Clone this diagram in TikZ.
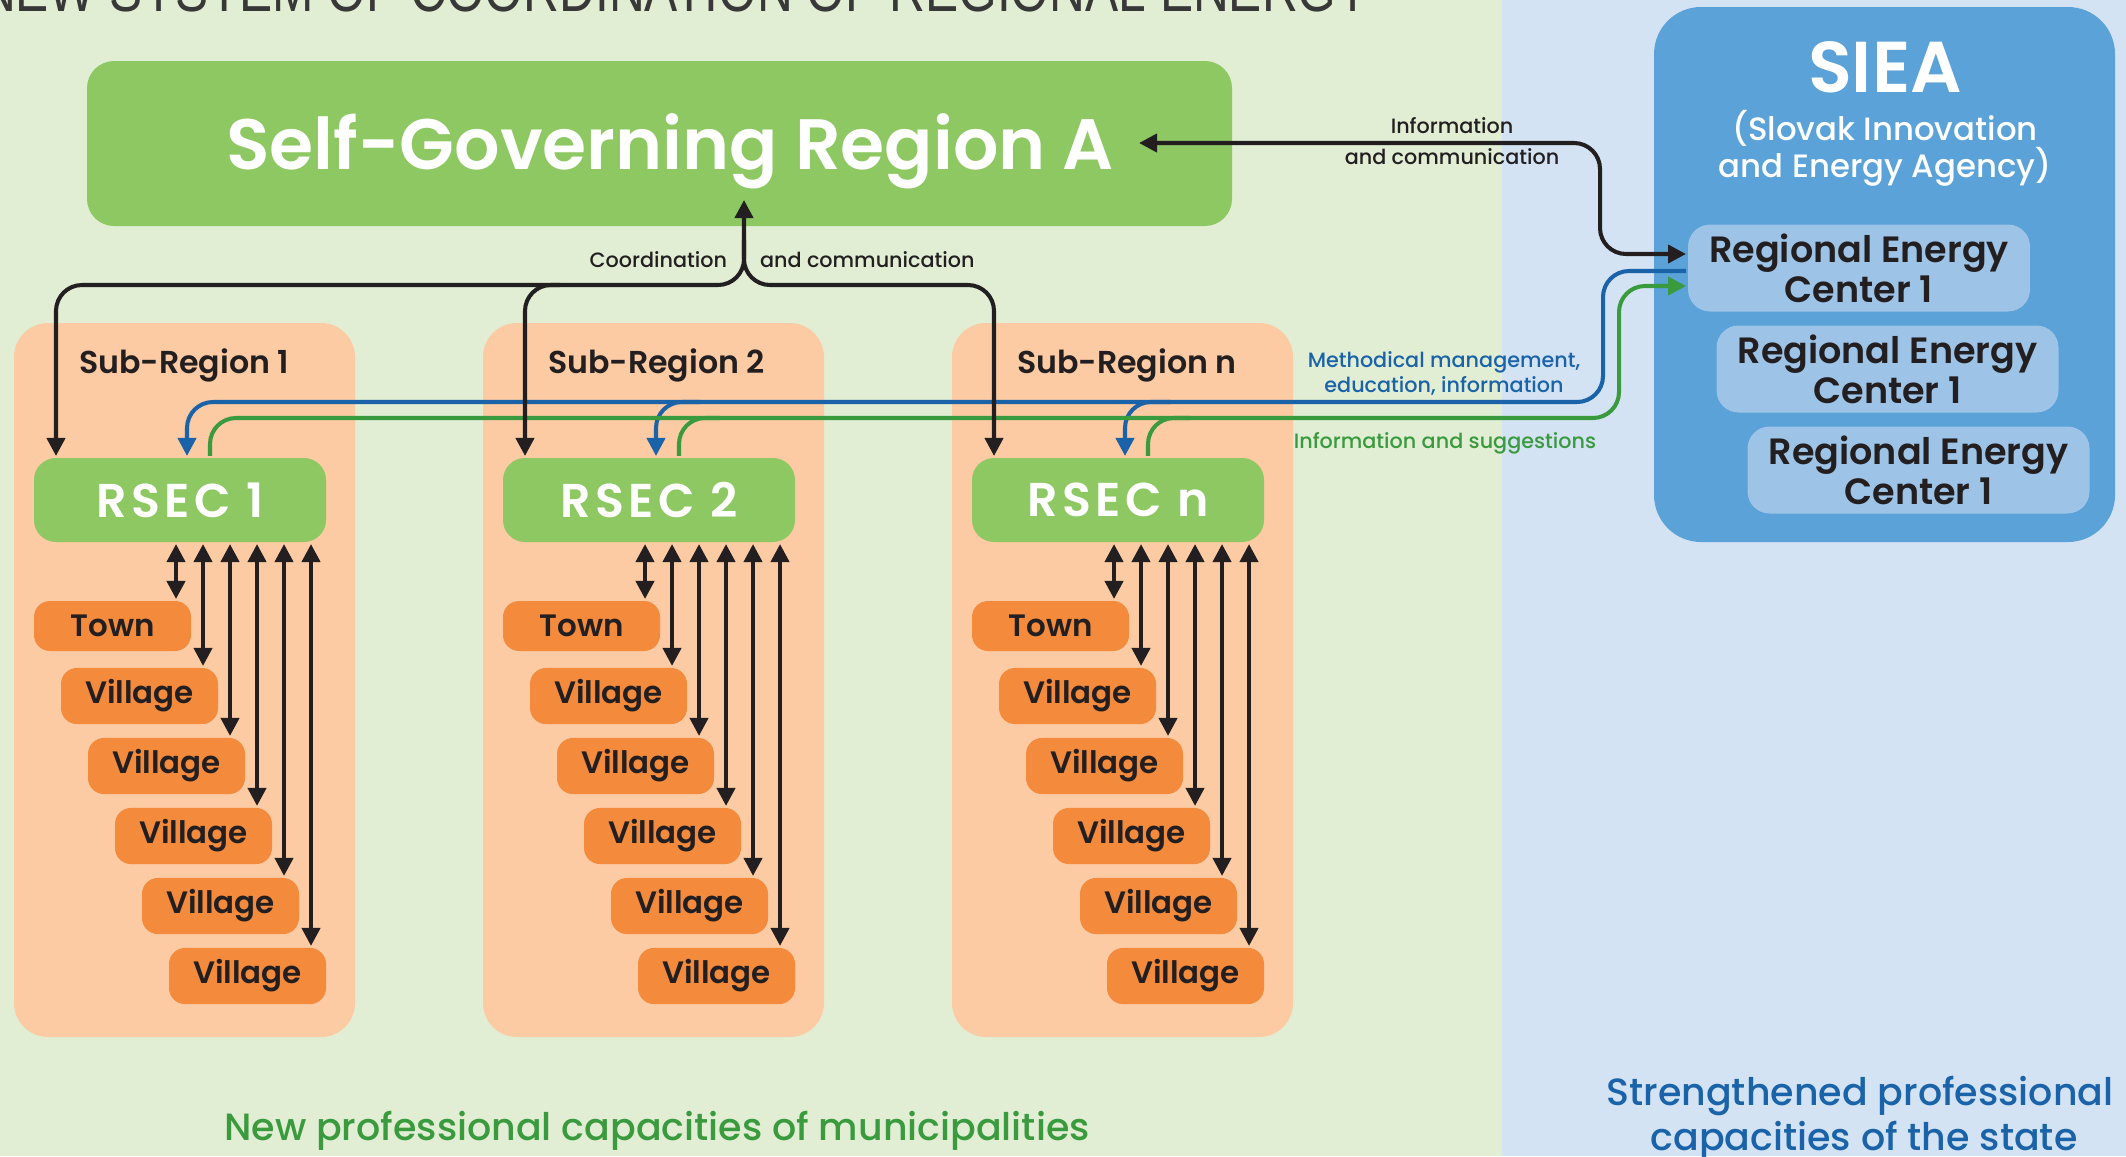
\documentclass[tikz,border=0pt]{standalone}
\usepackage{fontspec}
\IfFontExistsTF{Poppins SemiBold}
  {\setmainfont{Poppins}[BoldFont={Poppins SemiBold}]}
  {\setmainfont{Poppins}}
\IfFontExistsTF{Poppins Medium}
  {\newfontfamily\labelfont{Poppins Medium}}
  {\newfontfamily\labelfont{Poppins}}
\newfontfamily\titlefont{Liberation Sans}
\usepackage{graphicx}
\usetikzlibrary{arrows.meta,positioning}

\definecolor{bggreen}{HTML}{E1EED4}
\definecolor{bgblue}{HTML}{D3E3F4}
\definecolor{regiongreen}{HTML}{8DC863}
\definecolor{subpeach}{HTML}{FCCBA3}
\definecolor{townorange}{HTML}{F48A3C}
\definecolor{sieablue}{HTML}{5AA2D8}
\definecolor{centerblue}{HTML}{9DC3E6}
\definecolor{methblue}{HTML}{1A63A9}
\definecolor{infogreen}{HTML}{3A9A3E}
\definecolor{inkdark}{HTML}{231F20}

\begin{document}
\begin{tikzpicture}[x=0.1mm,y=-0.1mm,>={Triangle[length=1.8mm,width=1.8mm]},
        line width=1.15pt]
        \tikzstyle{panel}=[fill=subpeach,rounded corners=3.4mm]
        \tikzstyle{rsecbox}=[fill=regiongreen,rounded corners=2.2mm,minimum width=29.2mm,
          minimum height=8.4mm,text=white,font=\bfseries\fontsize{13.5}{16}\selectfont\addfontfeature{LetterSpace=9}]
        \tikzstyle{villagebox}=[fill=townorange,rounded corners=1.6mm,minimum width=15.7mm,
          minimum height=5mm,text=inkdark,font=\bfseries\fontsize{8.8}{10}\selectfont]
        \tikzstyle{centerbox}=[fill=centerblue,rounded corners=2.2mm,minimum width=34.2mm,
          minimum height=8.7mm,align=center,inner sep=0pt,text=inkdark,
          font=\bfseries\fontsize{10.4}{10}\selectfont]
        \tikzstyle{sublabel}=[anchor=base west,inner sep=0pt,text=inkdark,
          font=\bfseries\fontsize{9}{11}\selectfont]
        \tikzstyle{smalllabel}=[inner sep=0pt,font=\labelfont\fontsize{5.9}{7.5}\selectfont]
        \tikzstyle{biglabel}=[anchor=base,inner sep=0pt,font=\labelfont\fontsize{10.8}{12}\selectfont]
        \tikzstyle{coordline}=[inkdark,rounded corners=2.6mm]
        \tikzstyle{methline}=[methblue,rounded corners=2.6mm]
        \tikzstyle{infoline}=[infogreen,rounded corners=2.6mm]

  \fill[bggreen] (0,0) rectangle (1502,1156);
  \fill[bgblue] (1502,0) rectangle (2126,1156);
  \useasboundingbox (0,0) rectangle (2126,1156);

  \node[anchor=base west,inner sep=0pt,text=black!78] (title) at (-22,11)
    {\titlefont\fontsize{18}{20}\selectfont\scalebox{0.785}[1]{NEW SYSTEM OF COORDINATION OF REGIONAL ENERGY}};

  \node[fill=regiongreen,rounded corners=2.7mm,minimum width=114.5mm,minimum height=16.5mm] (sgr) at (659.5,143.5) {};
  \node[anchor=base,inner sep=0pt,text=white,font=\bfseries\fontsize{20.3}{24}\selectfont] (sgrname) at (670,169) {Self-Governing Region A};

  \node[fill=sieablue,rounded corners=4.7mm,minimum width=46.1mm,minimum height=53.5mm] (siea) at (1884.5,274.5) {};
  \node[anchor=base,inner sep=0pt,text=white,font=\bfseries\fontsize{20.5}{22}\selectfont] (sieaname) at (1885,92) {SIEA};
  \node[anchor=base,inner sep=0pt,text=white,font=\labelfont\fontsize{9.2}{10.5}\selectfont] (sieafull1) at (1885,140) {(Slovak Innovation};
  \node[anchor=base,inner sep=0pt,text=white,font=\labelfont\fontsize{9.2}{10.5}\selectfont] (sieafull2) at (1885,177) {and Energy Agency)};

  \node[centerbox] (rc1) at (1859,268) {Regional Energy\\Center 1};
  \node[centerbox] (rc2) at (1887.5,369) {Regional Energy\\Center 1};
  \node[centerbox] (rc3) at (1918.5,470) {Regional Energy\\Center 1};

  \foreach \o/\lab [count=\k] in {0/1,469/2,938/n} {
    \fill[panel] (14+\o,323) rectangle (355+\o,1037);
    \node[sublabel] (sub\k) at (77+\o,373) {Sub-Region \lab};
    \node[rsecbox] (rsec\k) at (180+\o,500) {RSEC \lab};
    \node[villagebox] (town\k) at (112.5+\o,626) {Town};
    \coordinate (tip\k-0) at ([xshift=-1.7mm]town\k.north east);
    \draw[<->,inkdark] (rsec\k.south -| tip\k-0) -- (tip\k-0);
    \foreach \j in {1,...,5} {
      \node[villagebox] (vil\k-\j) at (112.5+27*\j+\o,626+70*\j) {Village};
      \coordinate (tip\k-\j) at ([xshift=-1.7mm]vil\k-\j.north east);
      \draw[<->,inkdark] (rsec\k.south -| tip\k-\j) -- (tip\k-\j);
    }
  }

  % methodical management
  \draw[methline,->] ([yshift=-0.3mm]rc1.west) -| (1603,402) -| ([xshift=0.7mm]rsec1.north);
  \draw[methline,->] (700,402) -| ([xshift=0.7mm]rsec2.north);
  \draw[methline,->] (1170,402) -| ([xshift=0.7mm]rsec3.north);

  % information and suggestions
  \draw[infoline,->] ([xshift=3mm]rsec1.north) |- (1619,418) |- ([yshift=-1.8mm]rc1.west);
  \draw[infoline] ([xshift=3mm]rsec2.north) |- (720,418);
  \draw[infoline] ([xshift=3mm]rsec3.north) |- (1190,418);

  % coordination
  \coordinate (sgtip) at (744,200);
  \coordinate (hub) at (744,285);
  \draw[coordline,<->] (sgtip) -- (hub) -| ([xshift=-12.4mm]rsec1.north);
  \draw[coordline,->] (744,240) -- (hub) -| ([xshift=-12.4mm]rsec3.north);
  \draw[coordline,->] (560,285) -| ([xshift=-12.4mm]rsec2.north);

  \coordinate (infotip) at (1139,143);
  \draw[coordline,<->] (infotip) -- (1600,143) |- ([yshift=1.4mm]rc1.west);

  \node[smalllabel,anchor=base east,text=inkdark] (coordlab) at (729,267) {Coordination};
  \node[smalllabel,anchor=base west,text=inkdark] (commlab) at (758,267) {and communication};
  \node[smalllabel,anchor=base,text=inkdark] (infolab1) at (1452,133) {Information};
  \node[smalllabel,anchor=base,text=inkdark] (infolab2) at (1452,164) {and communication};
  \node[smalllabel,anchor=base,text=methblue] (methlab1) at (1444,367) {Methodical management,};
  \node[smalllabel,anchor=base,text=methblue] (methlab2) at (1444,392) {education, information};
  \node[smalllabel,anchor=base,text=infogreen] (sugglab) at (1445,448) {Information and suggestions};

  \node[biglabel,text=infogreen] (muni) at (657,1140) {New professional capacities of municipalities};
  \node[biglabel,text=methblue] (state1) at (1860,1105) {Strengthened professional};
  \node[biglabel,text=methblue] (state2) at (1864,1150) {capacities of the state};
\end{tikzpicture}
\end{document}
